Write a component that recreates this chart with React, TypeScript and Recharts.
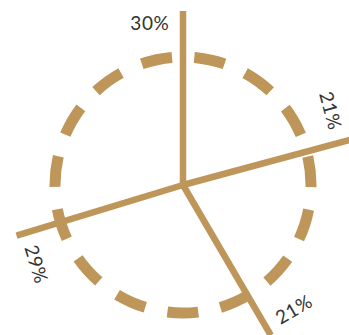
import React from 'react';
import { PieChart, Pie } from 'recharts';

// Share of each slice, clockwise from twelve o'clock
const sliceValues = [21, 21, 29, 30];
const sliceLabels = ['21%', '21%', '29%', '30%'];

const data = sliceValues.map((value, i) => ({ name: sliceLabels[i], value }));

const GOLD = '#BE965A';
const RADIAN = Math.PI / 180;

const polar = (cx: number, cy: number, r: number, angle: number) => ({
  x: cx + r * Math.cos(-angle * RADIAN),
  y: cy + r * Math.sin(-angle * RADIAN),
});

const LINE_LENGTH = 174;
const LABEL_RADIUS = 166;
const LABEL_SHIFT = 11.5;
const DASHES = 15;

const renderSlice = (props: any) => {
  const { cx, cy, outerRadius, endAngle, index } = props;
  const end = polar(cx, cy, LINE_LENGTH, endAngle);
  const pos = polar(cx, cy, LABEL_RADIUS, endAngle + LABEL_SHIFT);
  let rot = 90 - endAngle;
  rot = ((rot % 360) + 360) % 360;
  if (rot > 90 && rot <= 270) rot -= 180;
  if (rot > 270) rot -= 360;

  let ring = null;
  if (index === 0) {
    const r = outerRadius;
    const period = (2 * Math.PI * r) / DASHES;
    const dash = period * 0.578;
    const gap = period - dash;
    ring = (
      <path
        d={`M ${cx} ${cy - r} A ${r} ${r} 0 1 1 ${cx} ${cy + r} A ${r} ${r} 0 1 1 ${cx} ${cy - r}`}
        fill="none"
        stroke={GOLD}
        strokeWidth={11}
        strokeDasharray={`${dash} ${gap}`}
        strokeDashoffset={dash + gap / 2}
      />
    );
  }

  return (
    <g key={`slice-${index}`}>
      {ring}
      <line x1={cx} y1={cy} x2={end.x} y2={end.y} stroke={GOLD} strokeWidth={6.5} />
      <text
        x={pos.x}
        y={pos.y}
        textAnchor="middle"
        dominantBaseline="central"
        fill="#333333"
        fontSize={19}
        letterSpacing={0.6}
        fontFamily="Lato, 'Open Sans', sans-serif"
        fontWeight={400}
        transform={`rotate(${rot} ${pos.x} ${pos.y})`}
      >
        {sliceLabels[index]}
      </text>
    </g>
  );
};

export default function App() {
  return (
    <div style={{ position: 'absolute', left: 0, top: 0, width: 349, height: 335, overflow: 'hidden', background: '#fff' }}>
      <PieChart width={349} height={335} margin={{ top: 0, right: 0, bottom: 0, left: 0 }}>
        <Pie
          data={data}
          dataKey="value"
          cx={183}
          cy={185}
          innerRadius={0}
          outerRadius={128}
          startAngle={90}
          endAngle={-270}
          fill="none"
          stroke="none"
          labelLine={false}
          label={renderSlice}
          isAnimationActive={false}
        />
      </PieChart>
    </div>
  );
}
